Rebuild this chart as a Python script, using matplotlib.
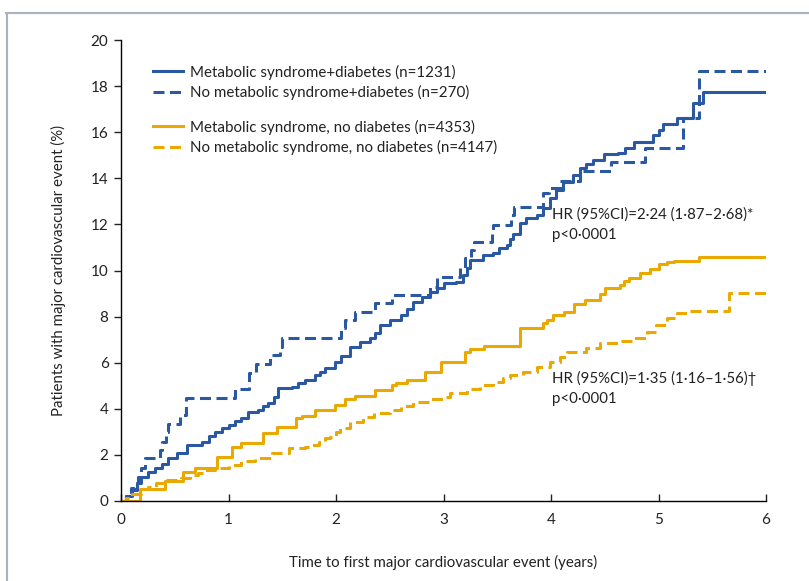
import matplotlib
matplotlib.use("Agg")
import matplotlib.pyplot as plt
from matplotlib.lines import Line2D
import numpy as np

# ---------------- data (step curves: time in years, cumulative % with event) ----------------
ms_dm_t = [0, 0.05, 0.1, 0.15, 0.19, 0.25, 0.32, 0.38, 0.44, 0.52, 0.61, 0.75, 0.82, 0.87, 0.94,
           1.0, 1.06, 1.12, 1.18, 1.27, 1.32, 1.37, 1.42, 1.46, 1.59, 1.65, 1.71, 1.8, 1.85, 1.9,
           1.99, 2.05, 2.13, 2.22, 2.32, 2.36, 2.41, 2.5, 2.6, 2.66, 2.72, 2.8, 2.87, 2.94, 3.0,
           3.12, 3.18, 3.22, 3.25, 3.37, 3.46, 3.52, 3.59, 3.62, 3.65, 3.71, 3.77, 3.87, 3.93,
           3.99, 4.05, 4.11, 4.2, 4.27, 4.33, 4.39, 4.49, 4.62, 4.69, 4.77, 4.95, 5.0, 5.04,
           5.17, 5.32, 5.41, 6.0]
ms_dm_v = [0, 0.2, 0.47, 0.8, 1.05, 1.25, 1.43, 1.6, 1.86, 2.1, 2.43, 2.57, 2.8, 3.0, 3.15,
           3.3, 3.45, 3.6, 3.87, 3.95, 4.1, 4.25, 4.5, 4.9, 4.96, 5.1, 5.25, 5.47, 5.6, 5.77,
           6.04, 6.3, 6.7, 6.9, 7.07, 7.3, 7.63, 7.85, 8.07, 8.35, 8.65, 8.85, 9.08, 9.25, 9.45,
           9.5, 9.8, 10.1, 10.45, 10.67, 10.75, 10.97, 11.1, 11.35, 11.6, 12.05, 12.28, 12.4, 12.7,
           13.15, 13.5, 13.85, 14.15, 14.45, 14.6, 14.8, 15.05, 15.1, 15.3, 15.57, 15.87, 16.1, 16.35,
           16.6, 17.25, 17.73, 17.73]

noms_dm_t = [0, 0.05, 0.09, 0.13, 0.16, 0.19, 0.22, 0.36, 0.38, 0.42, 0.44, 0.55, 0.6, 1.06,
             1.19, 1.26, 1.39, 1.48, 1.5, 2.05, 2.08, 2.18, 2.36, 2.52, 2.87, 2.94, 3.15, 3.2,
             3.26, 3.28, 3.45, 3.46, 3.63, 3.66, 3.93, 3.98, 4.08, 4.27, 4.56, 4.87, 5.23, 5.38, 6.0]
noms_dm_v = [0, 0.3, 0.55, 0.8, 1.05, 1.45, 1.85, 2.2, 2.57, 3.0, 3.34, 3.73, 4.48, 4.86,
             5.57, 5.94, 6.33, 6.7, 7.07, 7.5, 7.85, 8.2, 8.58, 8.93, 9.3, 9.73, 10.1, 10.53,
             10.9, 11.25, 11.6, 11.97, 12.4, 12.77, 13.36, 13.58, 13.88, 14.32, 14.7, 15.33, 16.63,
             18.65, 18.65]

ms_nodm_t = [0, 0.18, 0.41, 0.58, 0.69, 0.89, 1.03, 1.12, 1.32, 1.45, 1.63, 1.68, 1.8, 1.99,
             2.08, 2.18, 2.36, 2.52, 2.56, 2.66, 2.83, 2.98, 3.2, 3.25, 3.38, 3.71, 3.93, 3.96,
             4.02, 4.12, 4.21, 4.32, 4.46, 4.5, 4.64, 4.68, 4.73, 4.83, 4.92, 5.0, 5.08, 5.14,
             5.38, 6.0]
ms_nodm_v = [0, 0.5, 0.88, 1.27, 1.42, 1.92, 2.33, 2.53, 2.96, 3.22, 3.59, 3.7, 3.95, 4.16,
             4.41, 4.55, 4.81, 5.03, 5.12, 5.27, 5.6, 6.04, 6.48, 6.58, 6.72, 7.49, 7.71, 7.85,
             8.07, 8.21, 8.53, 8.72, 8.97, 9.23, 9.37, 9.55, 9.69, 9.88, 10.05, 10.27, 10.38, 10.43,
             10.6, 10.6]

noms_nodm_t = [0, 0.05, 0.1, 0.19, 0.25, 0.33, 0.41, 0.56, 0.64, 0.72, 0.8, 0.87, 1.0, 1.12,
               1.25, 1.4, 1.56, 1.71, 1.78, 1.84, 1.9, 1.94, 2.0, 2.04, 2.13, 2.25, 2.35, 2.5,
               2.6, 2.72, 2.87, 3.0, 3.06, 3.22, 3.34, 3.46, 3.55, 3.62, 3.74, 3.87, 3.99, 4.08,
               4.15, 4.33, 4.46, 4.64, 4.77, 4.89, 4.98, 5.08, 5.17, 5.29, 5.66, 6.0]
noms_nodm_v = [0, 0.15, 0.3, 0.5, 0.62, 0.78, 0.91, 1.01, 1.12, 1.23, 1.33, 1.42, 1.56, 1.75,
               1.85, 2.07, 2.29, 2.36, 2.45, 2.57, 2.72, 2.79, 3.0, 3.15, 3.44, 3.66, 3.8, 3.95,
               4.12, 4.31, 4.41, 4.53, 4.7, 4.85, 5.03, 5.18, 5.32, 5.47, 5.61, 5.83, 6.04, 6.26,
               6.45, 6.62, 6.84, 6.94, 7.09, 7.35, 7.64, 7.93, 8.14, 8.24, 9.02, 9.02]

labels = ["Metabolic syndrome+diabetes (n=1231)",
          "No metabolic syndrome+diabetes (n=270)",
          "Metabolic syndrome, no diabetes (n=4353)",
          "No metabolic syndrome, no diabetes (n=4147)"]

x_ticks = [0, 1, 2, 3, 4, 5, 6]
y_ticks = [0, 2, 4, 6, 8, 10, 12, 14, 16, 18, 20]

hr_text_1 = "HR (95%CI)=2·24 (1·87–2·68)*\np<0·0001"
hr_text_2 = "HR (95%CI)=1·35 (1·16–1·56)†\np<0·0001"

# ---------------- style ----------------
BLUE = "#2B58A3"
GOLD = "#E9A900"
TXT = "#222222"
FONT = ["Lato", "DejaVu Sans"]
plt.rcParams["font.family"] = FONT

fig = plt.figure(figsize=(8.09, 5.81), dpi=100)
ax = fig.add_axes([121 / 809, 1 - 501 / 581, 645 / 809, 461 / 581])

lw = 2.2
dash = (3.6, 1.8)
l1, = ax.step(ms_dm_t, ms_dm_v, where="post", color=BLUE, lw=lw, label=labels[0])
l2, = ax.step(noms_dm_t, noms_dm_v, where="post", color=BLUE, lw=lw, ls=(0, dash), label=labels[1])
l3, = ax.step(ms_nodm_t, ms_nodm_v, where="post", color=GOLD, lw=lw, label=labels[2])
l4, = ax.step(noms_nodm_t, noms_nodm_v, where="post", color=GOLD, lw=lw, ls=(0, dash), label=labels[3])

ax.set_xlim(0, 6)
ax.set_ylim(0, 20)
ax.set_xticks(x_ticks)
ax.set_yticks(y_ticks)
for s in ["top", "right"]:
    ax.spines[s].set_visible(False)
ax.spines["left"].set_linewidth(1.0)
ax.spines["bottom"].set_linewidth(1.0)
ax.tick_params(axis="y", direction="out", length=5, width=1, labelsize=11, pad=4, colors=TXT)
ax.tick_params(axis="x", direction="in", length=5, width=1, labelsize=11, pad=9, colors=TXT)

ax.set_xlabel("Time to first major cardiovascular event (years)", fontsize=10.8, labelpad=20, color=TXT)
ax.set_ylabel("Patients with major cardiovascular event (%)", fontsize=10.8, labelpad=18, color=TXT)

leg_fs = 10.9
leg_kw = dict(frameon=False, fontsize=leg_fs, handlelength=2.0, handletextpad=0.46,
              borderpad=0, borderaxespad=0, labelspacing=0.37, loc="upper left")
leg1 = ax.legend(handles=[l1, l2], bbox_to_anchor=(32 / 645, 1 - 24.5 / 461), **leg_kw)
for t in leg1.get_texts():
    t.set_color(TXT)
ax.add_artist(leg1)
leg2 = ax.legend(handles=[l3, l4], bbox_to_anchor=(32 / 645, 1 - 79.5 / 461), **leg_kw)
for t in leg2.get_texts():
    t.set_color(TXT)

ax.text(4.01, 12.0, hr_text_1, fontsize=10.8, va="center", ha="left", color=TXT, linespacing=1.55)
ax.text(4.01, 4.9, hr_text_2, fontsize=10.8, va="center", ha="left", color=TXT, linespacing=1.55)

# outer frame lines (top and left)
fig.add_artist(Line2D([6 / 809, 1], [1 - 13 / 581, 1 - 13 / 581], transform=fig.transFigure,
                      color="#A8B3BF", lw=1.5))
fig.add_artist(Line2D([7 / 809, 7 / 809], [0, 1 - 13 / 581], transform=fig.transFigure,
                      color="#A8B3BF", lw=1.5))

fig.savefig("out.png", dpi=100)
